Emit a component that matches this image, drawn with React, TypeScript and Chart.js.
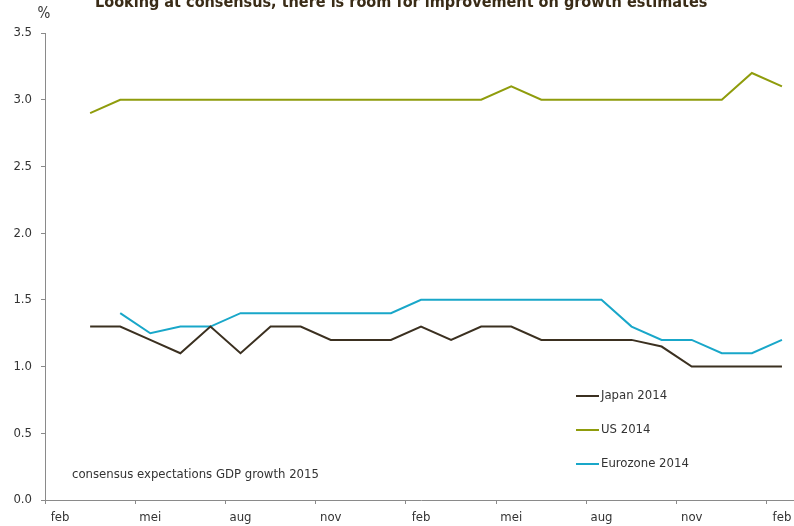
import React, { useEffect, useRef } from "react";
import { Chart, registerables } from "chart.js";

Chart.register(...registerables);

const FONT = "'DejaVu Sans Condensed', 'Liberation Sans Narrow', 'DejaVu Sans', sans-serif";

const titleText = "Looking at consensus, there is room for improvement on growth estimates";
const unitLabel = "%";
const noteText = "consensus expectations GDP growth 2015";

// monthly categories, feb 2013 .. feb 2015 (Dutch abbreviations)
const months = [
  "feb", "mrt", "apr", "mei", "jun", "jul", "aug", "sep", "okt", "nov", "dec", "jan",
  "feb", "mrt", "apr", "mei", "jun", "jul", "aug", "sep", "okt", "nov", "dec", "jan",
  "feb",
];

const japan2014 = [
  null, 1.3, 1.3, 1.2, 1.1, 1.3, 1.1, 1.3, 1.3, 1.2, 1.2, 1.2, 1.3,
  1.2, 1.3, 1.3, 1.2, 1.2, 1.2, 1.2, 1.15, 1.0, 1.0, 1.0, 1.0,
];
const us2014 = [
  null, 2.9, 3.0, 3.0, 3.0, 3.0, 3.0, 3.0, 3.0, 3.0, 3.0, 3.0, 3.0,
  3.0, 3.0, 3.1, 3.0, 3.0, 3.0, 3.0, 3.0, 3.0, 3.0, 3.2, 3.1,
];
const eurozone2014 = [
  null, null, 1.4, 1.25, 1.3, 1.3, 1.4, 1.4, 1.4, 1.4, 1.4, 1.4, 1.5,
  1.5, 1.5, 1.5, 1.5, 1.5, 1.5, 1.3, 1.2, 1.2, 1.1, 1.1, 1.2,
];

const seriesNames = ["Japan 2014", "US 2014", "Eurozone 2014"];
const seriesColors = ["#3b3020", "#8f9c0c", "#19a7c9"];

const yTicks = { min: 0, max: 3.5, step: 0.5 };

const textPlugin = {
  id: "textPlugin",
  afterDraw(chart: any) {
    const ctx = chart.ctx;
    const area = chart.chartArea;
    ctx.save();
    // title (partly cut at top, as in reference)
    ctx.fillStyle = "#3a2c17";
    ctx.font = `bold 17px ${FONT}`;
    ctx.textAlign = "left";
    ctx.textBaseline = "alphabetic";
    const tw = ctx.measureText(titleText).width;
    const targetW = 613;
    const sz = 17 * targetW / tw;
    ctx.font = `bold ${sz.toFixed(2)}px ${FONT}`;
    ctx.fillText(titleText, 95, 7);

    // unit
    ctx.fillStyle = "#333333";
    ctx.font = `15px ${FONT}`;
    ctx.textAlign = "center";
    ctx.textBaseline = "middle";
    ctx.fillText(unitLabel, 44, 14);

    // note
    ctx.font = `13px ${FONT}`;
    ctx.textAlign = "left";
    ctx.fillText(noteText, 72, 475);

    // legend
    const lx = 576;
    const ly = [396, 430, 464];
    chart.data.datasets.forEach((ds: any, i: number) => {
      ctx.strokeStyle = ds.borderColor;
      ctx.lineWidth = 2;
      ctx.beginPath();
      ctx.moveTo(lx, ly[i]);
      ctx.lineTo(lx + 23, ly[i]);
      ctx.stroke();
      ctx.fillStyle = "#333333";
      ctx.font = `13px ${FONT}`;
      ctx.textAlign = "left";
      ctx.textBaseline = "middle";
      ctx.fillText(ds.label, lx + 25, ly[i]);
    });
    ctx.restore();
  },
};

export default function App() {
  const ref = useRef<HTMLCanvasElement | null>(null);

  useEffect(() => {
    if (!ref.current) return;
    const datasets = [japan2014, us2014, eurozone2014].map((d, i) => ({
      label: seriesNames[i],
      data: d,
      borderColor: seriesColors[i],
      backgroundColor: seriesColors[i],
      borderWidth: 2,
      pointRadius: 0,
      tension: 0,
      fill: false,
    }));
    const chart = new Chart(ref.current, {
      type: "line",
      data: { labels: months, datasets },
      options: {
        responsive: false,
        animation: false,
        layout: { padding: { top: 33, right: 2, left: 0, bottom: 0 } },
        plugins: {
          legend: { display: false },
          title: { display: false },
          tooltip: { enabled: false },
        },
        scales: {
          x: {
            type: "category",
            offset: true,
            afterFit: (s: any) => { s.height = 26; },
            grid: {
              offset: true,
              drawOnChartArea: false,
              tickLength: 4,
              color: (c: any) => (typeof c.index === "number" && c.index % 3 === 0 ? "#8a8a8a" : "rgba(0,0,0,0)"),
            },
            border: { display: true, color: "#8a8a8a", width: 1 },
            ticks: {
              autoSkip: false,
              maxRotation: 0,
              padding: 6,
              color: "#333333",
              font: { family: FONT, size: 13 },
              callback: (_v: any, idx: number) => (idx % 3 === 0 ? months[idx] : ""),
            },
          },
          y: {
            min: yTicks.min,
            max: yTicks.max,
            afterFit: (s: any) => { s.width = 45; },
            grid: { drawOnChartArea: false, tickLength: 4, color: "#8a8a8a" },
            border: { display: true, color: "#8a8a8a", width: 1 },
            ticks: {
              stepSize: yTicks.step,
              padding: 9,
              color: "#333333",
              font: { family: FONT, size: 13 },
              callback: (v: any) => Number(v).toFixed(1),
            },
          },
        },
      },
      plugins: [textPlugin],
    });
    return () => chart.destroy();
  }, []);

  return (
    <div style={{ position: "fixed", left: 0, top: 0, width: 794, height: 526, overflow: "hidden", background: "#fff" }}>
      <canvas ref={ref} width={799} height={526} style={{ display: "block" }} />
    </div>
  );
}
